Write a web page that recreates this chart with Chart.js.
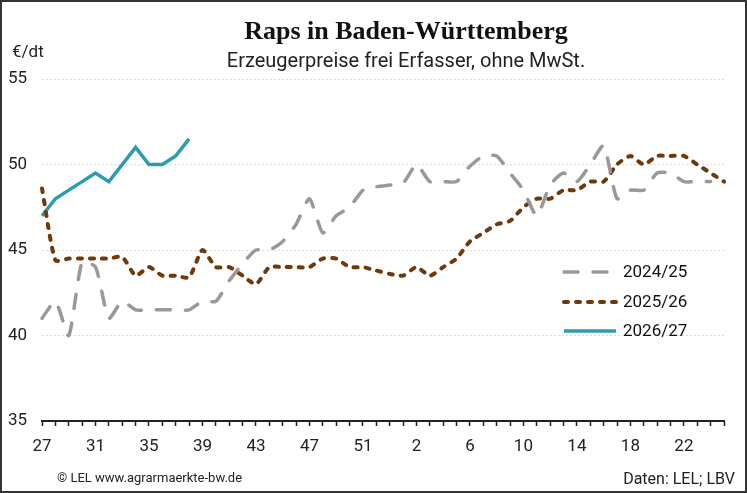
<!DOCTYPE html>
<html lang="de">
<head>
<meta charset="utf-8">
<title>Raps in Baden-Württemberg</title>
<script src="https://cdn.jsdelivr.net/npm/chart.js@4.4.1/dist/chart.umd.min.js"></script>
<style>
  html, body { margin: 0; padding: 0; background: #fff; }
  #wrap { width: 747px; height: 493px; }
</style>
</head>
<body>
<div id="wrap"><canvas id="myChart" width="747" height="493"></canvas></div>
<script>
"use strict";

// Kalenderwochen 27..53, dann 1..25
const weeks = [27, 28, 29, 30, 31, 32, 33, 34, 35, 36, 37, 38, 39, 40, 41, 42, 43, 44, 45, 46, 47, 48, 49, 50, 51, 52, 53,
    1, 2, 3, 4, 5, 6, 7, 8, 9, 10, 11, 12, 13, 14, 15, 16, 17, 18, 19, 20, 21, 22, 23, 24, 25];

const seriesNames = ["2024/25", "2025/26", "2026/27"];

const prices2425 = [41.0, 42.0, 40.0, 44.3, 44.0, 41.0, 42.0, 41.5, 41.5, 41.5, 41.5, 41.5, 42.0, 42.0, 43.2, 44.2, 45.0, 45.0, 45.5, 46.5, 48.0, 46.0, 47.0, 47.5, 48.5, 48.7, 48.8,
    48.9, 50.0, 49.0, 49.0, 49.0, 49.9, 50.5, 50.5, 49.5, 48.5, 47.0, 48.8, 49.5, 49.0, 50.0, 51.1, 48.0, 48.5, 48.5, 49.5, 49.5, 49.0, 49.0, 49.0, null];

const prices2526 = [48.6, 44.4, 44.5, 44.5, 44.5, 44.5, 44.6, 43.5, 44.0, 43.5, 43.5, 43.4, 45.0, 44.0, 44.0, 43.5, 43.0, 44.0, 44.0, 44.0, 44.0, 44.5, 44.5, 44.0, 44.0, 43.8, 43.6,
    43.5, 44.0, 43.5, 44.0, 44.5, 45.5, 46.0, 46.5, 46.7, 47.5, 48.0, 48.0, 48.5, 48.5, 49.0, 49.0, 50.0, 50.5, 50.0, 50.5, 50.5, 50.5, 50.0, 49.5, 49.0];

const prices2627 = [47.0, 48.0, 48.5, 49.0, 49.5, 49.0, 50.0, 51.0, 50.0, 50.0, 50.5, 51.5];

const yTicks = [35, 40, 45, 50, 55];

const colors = ["#9b9898", "#6e3a0c", "#2e9cb0"];
const dashes = [[14, 15], [4, 8], []];
const widths = [3.5, 4, 3.5];

// Texte, Legende und Rahmen
const decor = {
    id: "decor",
    afterDraw(chart) {
        const ctx = chart.ctx;
        ctx.save();
        ctx.fillStyle = "#111";
        ctx.textAlign = "center";
        ctx.textBaseline = "alphabetic";
        ctx.font = "bold 26px 'Liberation Serif', serif";
        ctx.fillText("Raps in Baden-Württemberg", 406, 39);
        ctx.fillStyle = "#222";
        ctx.font = "20px Roboto, sans-serif";
        ctx.fillText("Erzeugerpreise frei Erfasser, ohne MwSt.", 406, 67);

        ctx.textAlign = "left";
        ctx.font = "17px Roboto, sans-serif";
        ctx.fillText("€/dt", 12, 57);

        ctx.font = "13px Roboto, sans-serif";
        ctx.fillText("© LEL www.agrarmaerkte-bw.de", 57, 482);
        ctx.textAlign = "right";
        ctx.font = "16px Roboto, sans-serif";
        ctx.fillText("Daten: LEL; LBV", 735, 484);

        // Legende
        const rows = [272, 302, 331];
        chart.data.datasets.forEach((ds, i) => {
            ctx.beginPath();
            ctx.strokeStyle = ds.borderColor;
            ctx.lineWidth = ds.borderWidth;
            ctx.lineCap = i === 2 ? "butt" : "round";
            ctx.setLineDash(ds.borderDash);
            ctx.moveTo(564, rows[i]);
            ctx.lineTo(616, rows[i]);
            ctx.stroke();
            ctx.setLineDash([]);
            ctx.fillStyle = "#111";
            ctx.textAlign = "left";
            ctx.textBaseline = "middle";
            ctx.font = "17px Roboto, sans-serif";
            ctx.fillText(ds.label, 623, rows[i] + 1);
        });

        ctx.strokeStyle = "#333";
        ctx.lineWidth = 2;
        ctx.strokeRect(1, 1, 745, 491);
        ctx.restore();
    }
};

const chartDiv = document.getElementById("myChart");

new Chart(chartDiv, {
    type: "line",
    data: {
        labels: weeks,
        datasets: [
            {
                label: seriesNames[0],
                data: prices2425,
                borderColor: colors[0],
                borderWidth: widths[0],
                borderDash: dashes[0],
                borderCapStyle: "round",
                tension: 0.2
            },
            {
                label: seriesNames[1],
                data: prices2526,
                borderColor: colors[1],
                borderWidth: widths[1],
                borderDash: dashes[1],
                borderCapStyle: "round",
                tension: 0.2
            },
            {
                label: seriesNames[2],
                data: prices2627,
                borderColor: colors[2],
                borderWidth: widths[2],
                borderDash: dashes[2],
                tension: 0
            }
        ]
    },
    options: {
        responsive: false,
        animation: false,
        elements: { point: { radius: 0 } },
        layout: { padding: { left: 8, right: 23, top: 79, bottom: 0 } },
        plugins: {
            legend: { display: false },
            tooltip: { enabled: false }
        },
        scales: {
            x: {
                type: "category",
                offset: false,
                afterFit(scale) { scale.height = 72; },
                grid: {
                    drawOnChartArea: false,
                    drawTicks: true,
                    tickLength: 5,
                    tickColor: "#222",
                    tickWidth: 1.5
                },
                border: { display: true, color: "#222", width: 2 },
                ticks: {
                    autoSkip: false,
                    maxRotation: 0,
                    padding: 11,
                    color: "#222",
                    font: { family: "Roboto", size: 17 },
                    callback: (val, i) => (i % 4 === 0 ? String(weeks[i]) : "")
                }
            },
            y: {
                min: yTicks[0],
                max: yTicks[yTicks.length - 1],
                afterFit(scale) { scale.width = 34; },
                afterBuildTicks(scale) { scale.ticks = yTicks.map(v => ({ value: v })); },
                grid: {
                    drawTicks: false,
                    color: ctx => (ctx.tick && ctx.tick.value === yTicks[0] ? "rgba(0,0,0,0)" : "#dcdcdc"),
                    lineWidth: 1
                },
                border: { display: false, dash: [2, 2] },
                ticks: {
                    crossAlign: "far",
                    color: "#222",
                    font: { family: "Roboto", size: 17 }
                }
            }
        }
    },
    plugins: [decor]
});
</script>
</body>
</html>
